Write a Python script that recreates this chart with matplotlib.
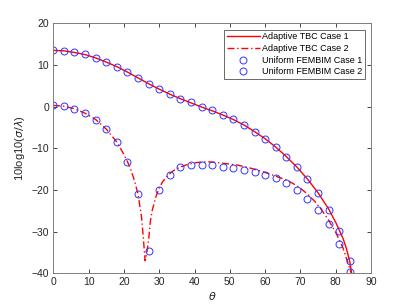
import matplotlib
matplotlib.use("Agg")
import matplotlib.pyplot as plt
import numpy as np

# Marker data (Uniform FEMBIM)
theta_m = [0, 3, 6, 9, 12, 15, 18, 21, 24, 27, 30, 33, 36, 39, 42, 45, 48, 51, 54, 57, 60, 63, 66, 69, 72, 75, 78, 81, 84]
fembim_case1 = [13.5, 13.4, 13.0, 12.6, 11.7, 10.7, 9.6, 8.3, 6.9, 5.5, 4.2, 3.0, 1.8, 1.0, 0.0,
                -0.9, -2.0, -3.0, -4.4, -6.0, -7.7, -9.6, -12.0, -14.6, -17.4, -20.8, -24.8, -29.8, -37.0]
fembim_case2 = [0.3, 0.1, -0.5, -1.6, -3.1, -5.4, -8.5, -13.2, -21.0, -34.6, -20.1, -16.3, -14.6, -14.1, -14.0,
                -14.1, -14.4, -14.8, -15.2, -15.7, -16.3, -17.2, -18.4, -20.0, -22.1, -24.7, -28.1, -32.9, -39.6]

# Line data (Adaptive TBC)
theta_l1 = [0, 3, 6, 9, 12, 15, 18, 21, 24, 27, 30, 33, 36, 39, 42, 45, 48, 51, 54, 57, 60, 63, 66, 69, 72, 75, 78, 80, 82, 83, 84, 84.5]
tbc_case1 = [13.5, 13.4, 13.0, 12.5, 11.7, 10.7, 9.6, 8.3, 6.9, 5.5, 4.2, 3.0, 1.9, 0.9, -0.1, -1.0, -2.0, -3.1,
             -4.4, -6.0, -7.7, -9.7, -12.0, -14.5, -17.4, -20.7, -24.6, -27.8, -31.5, -34.0, -37.3, -40.0]
theta_l2 = [0, 3, 6, 9, 12, 15, 18, 20, 21, 22, 23, 24, 25, 25.5, 26, 26.5, 27, 27.5, 28, 29, 30, 31, 32, 33, 34, 35, 36,
            38, 40, 42, 44, 46, 48, 50, 52, 54, 56, 58, 60, 62, 64, 66, 68, 70, 72, 74, 76, 78, 80, 82, 84, 84.4]
tbc_case2 = [0.3, 0.1, -0.5, -1.6, -3.1, -5.4, -8.5, -11.5, -13.2, -15.2, -17.8, -21.0, -26.5, -31.5, -37.0, -35.0,
             -32.0, -27.5, -25.0, -21.8, -19.5, -18.0, -16.9, -16.1, -15.4, -14.9, -14.5, -13.9, -13.5, -13.3, -13.25,
             -13.4, -13.6, -13.8, -14.0, -14.4, -14.8, -15.3, -15.8, -16.4, -17.0, -17.6, -18.5, -19.6, -21.0, -22.7,
             -24.8, -27.3, -30.2, -33.8, -39.0, -40.0]

xticks = [0, 10, 20, 30, 40, 50, 60, 70, 80, 90]
yticks = [-40, -30, -20, -10, 0, 10, 20]

plt.rcParams['font.family'] = ['Liberation Sans', 'DejaVu Sans']
plt.rcParams['mathtext.fontset'] = 'dejavusans'

fig = plt.figure(figsize=(4.1, 3.07), dpi=100)
ax = fig.add_axes([0.13, 0.110, 0.775, 0.814])

red = '#ff0000'
blue = '#3333ff'
ax.plot(theta_l1, tbc_case1, color=red, lw=1.0, label='Adaptive TBC Case 1')
ax.plot(theta_l2, tbc_case2, color=red, lw=1.0, linestyle=(0, (5, 2, 1, 2)), label='Adaptive TBC Case 2')
ax.plot(theta_m, fembim_case1, linestyle='none', marker='o', ms=5, mfc='none', mec=blue, mew=0.7,
        label='Uniform FEMBIM Case 1')
ax.plot(theta_m, fembim_case2, linestyle='none', marker='o', ms=5, mfc='none', mec=blue, mew=0.7,
        label='Uniform FEMBIM Case 2')

ax.set_xlim(0, 90)
ax.set_ylim(-40, 20)
ax.set_xticks(xticks)
ax.set_yticks(yticks)
ax.tick_params(direction='in', top=True, right=True, labelsize=7.5, length=3, width=0.6,
               colors='#262626', pad=3)
for s in ax.spines.values():
    s.set_color('#7f7f7f')
    s.set_linewidth(0.7)

ax.set_xlabel(r'$\theta$', fontsize=8, color='#262626', labelpad=2)
ax.set_ylabel(r'10log10($\sigma/\lambda$)', fontsize=8, color='#262626', labelpad=3)

leg = ax.legend(loc='upper right', fontsize=6.5, frameon=True, fancybox=False, handlelength=3.6,
                borderpad=0.3, labelspacing=0.3, handletextpad=0.25, borderaxespad=0.7)
leg.get_frame().set_edgecolor('#262626')
leg.get_frame().set_linewidth(0.6)

fig.savefig('out.png', dpi=100)
